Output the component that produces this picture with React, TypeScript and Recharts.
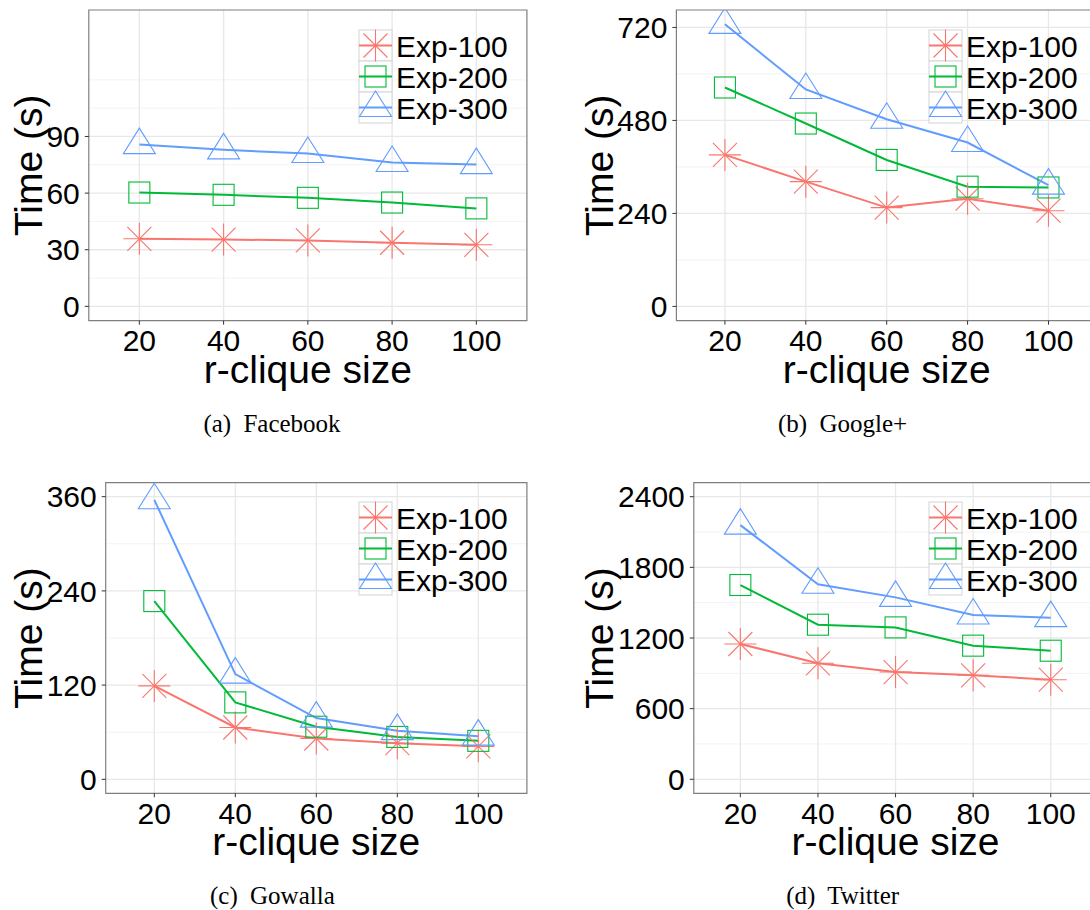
import React from 'react';
import { LineChart, Line, XAxis, YAxis, CartesianGrid, ReferenceArea, Legend, Label } from 'recharts';

// x categories (r-clique size)
const rCliqueSizes = [20, 40, 60, 80, 100];
const seriesNames = ['Exp-100', 'Exp-200', 'Exp-300'];
const seriesColors = ['#F8766D', '#00BA38', '#619CFF'];

// (a) Facebook
const facebookExp100 = [35.8, 35.4, 34.9, 33.7, 32.6];
const facebookExp200 = [60.3, 59.1, 57.5, 55.0, 51.9];
const facebookExp300 = [85.7, 82.9, 81.0, 76.2, 75.1];
const facebookTicks = [0, 30, 60, 90];
const facebookMinor = [15, 45, 75, 105, 120];

// (b) Google+
const googleExp100 = [391, 322, 255, 278, 247];
const googleExp200 = [565, 472, 378, 309, 307];
const googleExp300 = [728, 560, 483, 423, 313];
const googleTicks = [0, 240, 480, 720];
const googleMinor = [120, 360, 600];

// (c) Gowalla
const gowallaExp100 = [119, 66, 52, 46, 42];
const gowallaExp200 = [227, 98, 67, 54, 49];
const gowallaExp300 = [356, 134, 78, 62, 55];
const gowallaTicks = [0, 120, 240, 360];
const gowallaMinor = [60, 180, 300];

// (d) Twitter
const twitterExp100 = [1149, 985, 911, 883, 846];
const twitterExp200 = [1650, 1313, 1290, 1135, 1092];
const twitterExp300 = [2159, 1656, 1545, 1395, 1373];
const twitterTicks = [0, 600, 1200, 1800, 2400];
const twitterMinor = [300, 900, 1500, 2100];

const buildRows = (a: number[], b: number[], c: number[]) =>
  rCliqueSizes.map((size, i) => ({ size, exp100: a[i], exp200: b[i], exp300: c[i] }));

const seriesKeys = ['exp100', 'exp200', 'exp300'];
const shapes = ['asterisk', 'square', 'triangle'];

const FONT = '"Liberation Sans", Arial, Helvetica, sans-serif';

function Marker({ cx, cy, shape, color }: { cx?: number; cy?: number; shape: string; color: string }) {
  if (cx == null || cy == null) return null;
  if (shape === 'asterisk') {
    return (
      <g stroke={color} strokeWidth={1.1} fill="none">
        <line x1={cx} y1={cy - 16} x2={cx} y2={cy + 16} />
        <line x1={cx - 16} y1={cy} x2={cx + 16} y2={cy} />
        <line x1={cx - 12} y1={cy - 12} x2={cx + 12} y2={cy + 12} />
        <line x1={cx - 12} y1={cy + 12} x2={cx + 12} y2={cy - 12} />
      </g>
    );
  }
  if (shape === 'square') {
    return <rect x={cx - 10.5} y={cy - 10.5} width={21} height={21} fill="none" stroke={color} strokeWidth={1.1} />;
  }
  return (
    <polygon
      points={`${cx},${cy - 16.5} ${cx - 16},${cy + 9} ${cx + 16},${cy + 9}`}
      fill="none"
      stroke={color}
      strokeWidth={1.1}
    />
  );
}

function LegendBox() {
  const rowH = 31;
  return (
    <svg width={175} height={100} style={{ overflow: 'visible', display: 'block' }}>
      {seriesNames.map((name, i) => (
        <rect key={name} x={0} y={i * rowH} width={33} height={rowH} fill="#fff" stroke="#D4D4D4" strokeWidth={1} />
      ))}
      {seriesNames.map((name, i) => {
        const top = i * rowH;
        const cy = top + rowH / 2;
        const color = seriesColors[i];
        return (
          <g key={name + '-k'}>
            <Marker cx={16.5} cy={cy} shape={shapes[i]} color={color} />
            <line x1={0} y1={cy} x2={33} y2={cy} stroke={color} strokeWidth={2.2} />
            <text x={37} y={top + 26.5} fontSize={30} fontFamily={FONT} fill="#000">
              {name}
            </text>
          </g>
        );
      })}
    </svg>
  );
}

interface PanelProps {
  rows: { size: number; exp100: number; exp200: number; exp300: number }[];
  yDomain: [number, number];
  yTicks: number[];
  yMinor: number[];
  colLeft: number;
  rowTop: number;
  width: number;
  height: number;
  plotLeft: number;
  plotRight: number;
  plotTop: number;
  plotBottom: number;
}

function Panel(p: PanelProps) {
  const xAxisH = 70;
  const yAxisW = p.plotLeft - p.colLeft;
  const margin = {
    top: p.plotTop - p.rowTop,
    left: 0,
    right: p.colLeft + p.width - p.plotRight,
    bottom: p.rowTop + p.height - p.plotBottom - xAxisH,
  };
  const tickStyle = { fontSize: 30, fill: '#000', fontFamily: FONT };
  return (
    <div style={{ position: 'absolute', left: p.colLeft, top: p.rowTop, width: p.width, height: p.height }}>
      <LineChart width={p.width} height={p.height} data={p.rows} margin={margin}>
        <CartesianGrid horizontalValues={p.yMinor} vertical={false} stroke="#F3F3F3" strokeWidth={1} />
        <CartesianGrid horizontalValues={p.yTicks} verticalValues={rCliqueSizes} stroke="#E8E8E8" strokeWidth={1.3} />
        <XAxis
          dataKey="size"
          type="number"
          domain={[8, 112]}
          ticks={rCliqueSizes}
          allowDataOverflow
          height={xAxisH}
          axisLine={false}
          tickSize={4}
          tickMargin={5}
          tickLine={{ stroke: '#333' }}
          tick={tickStyle}
        >
          <Label
            content={() => (
              <text
                x={p.plotLeft - p.colLeft + (p.plotRight - p.plotLeft) / 2}
                y={p.plotBottom - p.rowTop + 62}
                textAnchor="middle"
                fontSize={39}
                fontFamily={FONT}
                fill="#000"
              >
                r-clique size
              </text>
            )}
          />
        </XAxis>
        <YAxis
          type="number"
          domain={p.yDomain}
          ticks={p.yTicks}
          allowDataOverflow
          width={yAxisW}
          axisLine={false}
          tickSize={4}
          tickMargin={5}
          tickLine={{ stroke: '#333' }}
          tick={tickStyle}
        >
          <Label
            content={() => {
              const cy = (p.plotTop + p.plotBottom) / 2 - p.rowTop;
              return (
                <text x={42} y={cy} transform={`rotate(-90, 42, ${cy})`} textAnchor="middle" fontSize={39} fontFamily={FONT} fill="#000">
                  Time (s)
                </text>
              );
            }}
          />
        </YAxis>
        <ReferenceArea x1={8} x2={112} y1={p.yDomain[0]} y2={p.yDomain[1]} fill="none" stroke="#7F7F7F" strokeWidth={1.2} ifOverflow="visible" />
        {seriesKeys.map((key, i) => (
          <Line
            key={key}
            dataKey={key}
            name={seriesNames[i]}
            stroke={seriesColors[i]}
            strokeWidth={2}
            isAnimationActive={false}
            activeDot={false}
            dot={(d: any) => <Marker key={`${key}-${d.index}`} cx={d.cx} cy={d.cy} shape={shapes[i]} color={seriesColors[i]} />}
          />
        ))}
        <Legend
          layout="vertical"
          align="center"
          verticalAlign="middle"
          content={() => <LegendBox />}
          wrapperStyle={{ left: p.plotRight - 168 - p.colLeft, top: p.plotTop + 19.5 - p.rowTop, width: 175, height: 100 }}
        />
      </LineChart>
    </div>
  );
}

const captions = [
  { tag: '(a)', name: 'Facebook', x: 272, y: 432 },
  { tag: '(b)', name: 'Google+', x: 842.6, y: 432 },
  { tag: '(c)', name: 'Gowalla', x: 272.4, y: 904 },
  { tag: '(d)', name: 'Twitter', x: 842.7, y: 904 },
];

export default function App() {
  return (
    <div
      style={{
        position: 'absolute',
        left: 0,
        top: 0,
        width: 1090,
        height: 910,
        overflow: 'hidden',
        background: '#fff',
        fontFamily: FONT,
      }}
    >
      <Panel
        rows={buildRows(facebookExp100, facebookExp200, facebookExp300)}
        yDomain={[-7.6, 157]}
        yTicks={facebookTicks}
        yMinor={facebookMinor}
        colLeft={0}
        rowTop={0}
        width={540}
        height={400}
        plotLeft={88.8}
        plotRight={526.9}
        plotTop={10}
        plotBottom={320.7}
      />
      <Panel
        rows={buildRows(googleExp100, googleExp200, googleExp300)}
        yDomain={[-36.9, 765]}
        yTicks={googleTicks}
        yMinor={googleMinor}
        colLeft={571}
        rowTop={0}
        width={540}
        height={400}
        plotLeft={676.4}
        plotRight={1097}
        plotTop={10}
        plotBottom={320.7}
      />
      <Panel
        rows={buildRows(gowallaExp100, gowallaExp200, gowallaExp300)}
        yDomain={[-17.8, 377.8]}
        yTicks={gowallaTicks}
        yMinor={gowallaMinor}
        colLeft={0}
        rowTop={460}
        width={540}
        height={420}
        plotLeft={105.7}
        plotRight={526.9}
        plotTop={482.7}
        plotBottom={793.3}
      />
      <Panel
        rows={buildRows(twitterExp100, twitterExp200, twitterExp300)}
        yDomain={[-119, 2519]}
        yTicks={twitterTicks}
        yMinor={twitterMinor}
        colLeft={571}
        rowTop={460}
        width={540}
        height={420}
        plotLeft={693.8}
        plotRight={1097.3}
        plotTop={482.7}
        plotBottom={793.3}
      />
      <svg width={1090} height={910} style={{ position: 'absolute', left: 0, top: 0, pointerEvents: 'none' }}>
        {captions.map((c) => (
          <text key={c.tag} x={c.x} y={c.y} textAnchor="middle" fontFamily='"Liberation Serif", "Times New Roman", serif' fontSize={25} fill="#000">
            <tspan>{c.tag}</tspan>
            <tspan dx={6}> {c.name}</tspan>
          </text>
        ))}
      </svg>
    </div>
  );
}
